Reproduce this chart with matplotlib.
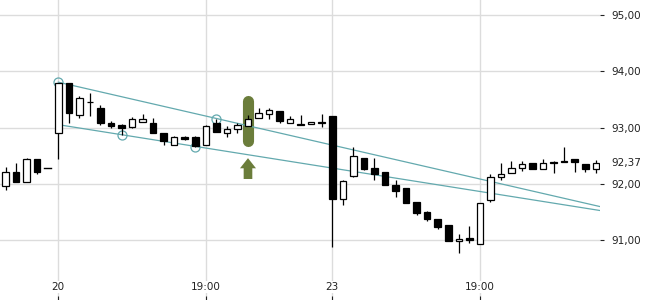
import matplotlib
matplotlib.use("Agg")
import matplotlib.pyplot as plt
import matplotlib.transforms as mtransforms
from matplotlib.patches import Rectangle, FancyArrow

# ---------------- data ----------------
opens  = [91.96, 92.21, 92.03, 92.45, 92.28, 92.90, 93.79, 93.22, 93.46, 93.36,
          93.08, 93.05, 93.01, 93.11, 93.09, 92.90, 92.70, 92.83, 92.83, 92.70,
          93.09, 92.91, 92.98, 93.04, 93.17, 93.25, 93.30, 93.09, 93.07, 93.06,
          93.10, 93.21, 91.73, 92.14, 92.47, 92.28, 92.21, 91.99, 91.93, 91.68,
          91.50, 91.38, 91.27, 90.98, 91.05, 90.93, 91.71, 92.12, 92.19, 92.29,
          92.38, 92.27, 92.39, 92.41, 92.45, 92.35, 92.27]
highs  = [92.30, 92.37, 92.46, 92.45, 92.28, 93.80, 93.79, 93.56, 93.61, 93.40,
          93.12, 93.07, 93.20, 93.25, 93.17, 92.90, 92.85, 92.86, 92.86, 93.05,
          93.15, 93.03, 93.09, 93.22, 93.35, 93.35, 93.30, 93.21, 93.22, 93.10,
          93.24, 93.21, 92.07, 92.66, 92.47, 92.46, 92.21, 92.07, 91.93, 91.68,
          91.52, 91.38, 91.27, 91.11, 91.25, 91.66, 92.17, 92.37, 92.41, 92.41,
          92.38, 92.44, 92.41, 92.66, 92.45, 92.35, 92.42]
lows   = [91.90, 92.04, 92.03, 92.18, 92.28, 92.45, 93.08, 93.18, 93.21, 93.05,
          92.99, 92.88, 92.99, 93.11, 92.90, 92.70, 92.69, 92.78, 92.66, 92.69,
          92.92, 92.84, 92.90, 93.04, 93.17, 93.15, 93.08, 93.09, 93.05, 93.06,
          93.02, 90.88, 91.62, 92.13, 92.25, 92.07, 91.99, 91.77, 91.67, 91.45,
          91.34, 91.20, 90.99, 90.77, 90.96, 90.93, 91.68, 92.08, 92.19, 92.23,
          92.27, 92.27, 92.20, 92.385, 92.22, 92.22, 92.19]
closes = [92.21, 92.04, 92.45, 92.22, 92.28, 93.79, 93.27, 93.52, 93.45, 93.08,
          93.03, 93.00, 93.15, 93.15, 92.90, 92.76, 92.83, 92.80, 92.68, 93.04,
          92.93, 92.97, 93.05, 93.15, 93.27, 93.31, 93.12, 93.15, 93.05, 93.10,
          93.08, 91.73, 92.06, 92.50, 92.27, 92.18, 91.99, 91.88, 91.67, 91.49,
          91.38, 91.24, 90.99, 91.03, 91.00, 91.66, 92.12, 92.18, 92.28, 92.35,
          92.27, 92.37, 92.37, 92.385, 92.40, 92.27, 92.37]

xtick_index  = [5, 19, 31, 45]
xtick_labels = ["20", "19:00", "23", "19:00"]
yticks = [91, 92, 93, 94, 95]

# trend lines (start bar, start price, end bar, end price)
upper_line = [5, 93.81, 56.4, 91.60]
lower_line = [5, 93.055, 56.4, 91.53]
# pivot points marked with circles
pivot_x = [5, 20, 11, 18]
pivot_y = [93.815, 93.16, 92.88, 92.665]

signal_index = 23

# ---------------- style ----------------
TEAL = "#63a9ae"
OLIVE = "#6b7d3b"
GRID = "#dcdcdc"
TXT = "#222222"

fig = plt.figure(figsize=(6.5, 3.0), dpi=100)
ax = fig.add_axes([0, 0, 600 / 650, 1])
ax.set_xlim(-0.53, 56.4)
ax.set_ylim(89.94, 95.27)
for s in ax.spines.values():
    s.set_visible(False)

ax.set_yticks(yticks)
ax.set_yticklabels([f"{v:.2f}".replace(".", ",") for v in yticks])
ax.yaxis.tick_right()
ax.tick_params(axis="y", length=3, width=0.8, pad=5, labelsize=7.5,
               colors=TXT, right=True, left=False)
ax.set_xticks(xtick_index)
ax.tick_params(axis="x", direction="in", length=3, width=0.8, colors=TXT,
               labelbottom=False)
ax.grid(True, color=GRID, linewidth=1.0, zorder=0)
ax.set_axisbelow(True)

btrans = mtransforms.blended_transform_factory(ax.transData, ax.transAxes)
for xi, lab in zip(xtick_index, xtick_labels):
    ax.text(xi, 13 / 300, lab, transform=btrans, ha="center", va="center",
            fontsize=7.5, color=TXT, zorder=5,
            bbox=dict(facecolor="white", edgecolor="none", pad=1.0))

# last price label
ytrans = mtransforms.blended_transform_factory(ax.transAxes, ax.transData)
ax.annotate(f"{closes[-1]:.2f}".replace(".", ","), xy=(1, closes[-1]),
            xycoords=ytrans, xytext=(8, 0), textcoords="offset points",
            ha="left", va="center", fontsize=7.5, color=TXT,
            annotation_clip=False)

# signal marker (stadium) and arrow
mid = (highs[signal_index] + lows[signal_index]) / 2
ax.plot([signal_index, signal_index], [mid + 0.35, mid - 0.36], color=OLIVE,
        linewidth=8.0, solid_capstyle="round", zorder=2)
arrow = FancyArrow(signal_index, mid - 1.04, 0, 0.37, width=0.82,
                   head_width=1.52, head_length=0.18, length_includes_head=True,
                   color=OLIVE, linewidth=0, zorder=2)
ax.add_patch(arrow)

# trend lines
for ln in (upper_line, lower_line):
    ax.plot([ln[0], ln[2]], [ln[1], ln[3]], color=TEAL, linewidth=0.9, zorder=3)
ax.plot(pivot_x, pivot_y, linestyle="none", marker="o", markersize=6.5,
        markerfacecolor="none", markeredgecolor=TEAL, markeredgewidth=0.9,
        zorder=3)

# candles
bw = 0.62
for i, (o, h, l, c) in enumerate(zip(opens, highs, lows, closes)):
    ax.plot([i, i], [l, h], color="black", linewidth=0.9, zorder=4,
            solid_capstyle="butt")
    lo, hi = min(o, c), max(o, c)
    if hi - lo < 0.005:
        ax.plot([i - bw / 2, i + bw / 2], [o, o], color="black",
                linewidth=1.0, zorder=4)
    else:
        fc = "white" if c > o else "black"
        ax.add_patch(Rectangle((i - bw / 2, lo), bw, hi - lo, facecolor=fc,
                               edgecolor="black", linewidth=0.9, zorder=4))

fig.savefig("out.png", dpi=100)
